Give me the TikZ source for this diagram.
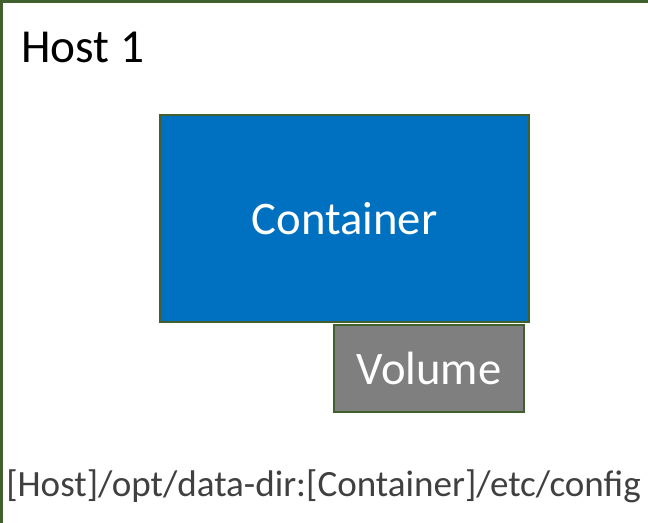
\documentclass[tikz,border=0pt]{standalone}
\usepackage{fontspec}
\setmainfont{Carlito}
\definecolor{hostgreen}{HTML}{41602E}
\definecolor{ctblue}{HTML}{0070C0}
\definecolor{volgray}{HTML}{7F7F7F}
\definecolor{pathgray}{HTML}{404040}
\tikzset{
  box/.style={draw=hostgreen, line width=1.5pt, inner sep=0pt, text=white,
    font=\fontsize{35}{40}\selectfont},
  label/.style={inner sep=0pt, anchor=base west}
}
\begin{document}
\begin{tikzpicture}[x=0.75pt, y=-0.75pt]
  \useasboundingbox (0,0) rectangle (648,523);
  % host frame (its right and bottom edges fall outside the page)
  \begin{scope}
    \clip (0,0) rectangle (648,523);
    \draw[hostgreen, line width=2.25pt] (1.5,1.5) rectangle (660,540);
  \end{scope}
  \node[label, font=\fontsize{35.5}{40}\selectfont] (host) at (21,63) {Host 1};
  \node[box, fill=ctblue, minimum width=369*0.75pt, minimum height=207*0.75pt]
    (container) at (344.5,218.5) {Container};
  \node[box, fill=volgray, minimum width=190*0.75pt, minimum height=87*0.75pt]
    (volume) at (429,368.5) {Volume};
  \node[label, text=pathgray, font=\fontsize{27.8}{32}\selectfont] (mount) at (6,496)
    {[Host]/opt/data-dir:[Container]/etc/config};
\end{tikzpicture}
\end{document}
